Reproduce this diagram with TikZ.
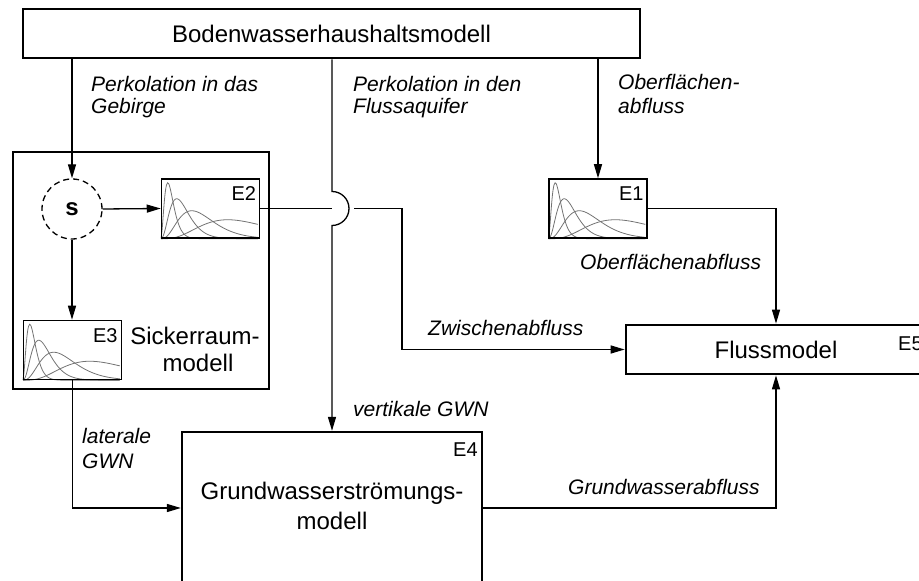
\documentclass[tikz,border=0pt]{standalone}
\usepackage{fontspec}
\setmainfont{Liberation Sans}
\usetikzlibrary{arrows.meta,calc}
\tikzset{
  bigbox/.style={draw, line width=2.7pt, inner sep=0pt, font=\fontsize{24}{28}\selectfont},
  ebox/.style={draw, line width=1.5pt, minimum width=98pt, minimum height=59pt, inner sep=0pt},
  elabel/.style={font=\fontsize{20}{24}\selectfont, inner sep=0pt, anchor=north east},
  lbl/.style={font=\fontsize{21}{24}\selectfont\itshape, inner sep=0pt, anchor=base west},
  mtxt/.style={font=\fontsize{24}{28}\selectfont, inner sep=0pt, anchor=base},
  conn/.style={line width=1.3pt},
  arr/.style={conn, -{Triangle[length=14pt,width=8pt]}},
  curve/.style={draw=black!55, line width=0.8pt}
}
\newcommand\gcurve[3]{\draw[curve] plot[domain=0.3:97,samples=90,smooth] (\x,{#2*exp(#3*(ln(\x/#1)+1-\x/#1))});}
\newcommand\curvefamily{%
  \gcurve{7}{56}{2.2}
  \gcurve{16}{40}{2.6}
  \gcurve{31}{28}{3.0}
  \gcurve{67}{19}{3.6}
}
\begin{document}
\begin{tikzpicture}[x=1pt,y=1pt]
\useasboundingbox (0,0) rectangle (919,581);
\clip (0,0) rectangle (919,581);

% boxes
\node[bigbox, minimum width=617pt, minimum height=49pt] (top) at (331.5,547.5) {Bodenwasserhaushaltsmodell};
\node[draw, line width=2.8pt, minimum width=256pt, minimum height=237pt, inner sep=0pt] (sick) at (141,310.5) {};
\node[draw, dashed, dash pattern=on 6pt off 4pt, line width=1.3pt, circle, minimum size=60pt, inner sep=0pt,
      font=\fontsize{24}{28}\selectfont\bfseries] (s) at (72,372) {s};
\node[ebox] (e2) at (210.5,372.5) {};
\node[ebox] (e1) at (598,372.5) {};
\node[ebox] (e3) at (72.5,231) {};
\node[bigbox, minimum width=300pt, minimum height=49pt] (fluss) at (776,231.5) {Flussmodel};
\node[draw, line width=2.3pt, minimum width=300pt, minimum height=152pt, inner sep=0pt] (e4) at (332,73) {};

% curves in E boxes
\begin{scope}[shift={(e2.south west)}]\curvefamily\end{scope}
\begin{scope}[shift={(e1.south west)}]\curvefamily\end{scope}
\begin{scope}[shift={(e3.south west)}]\curvefamily\end{scope}
\node[ebox] at (e2) {};
\node[ebox] at (e1) {};
\node[ebox] at (e3) {};

% E labels
\node[elabel] (le2) at ($(e2.north east)+(-4,-8)$) {E2};
\node[elabel] (le1) at ($(e1.north east)+(-4,-8)$) {E1};
\node[elabel] (le3) at ($(e3.north east)+(-4.5,-8.5)$) {E3};
\node[elabel, anchor=north west] (le4) at (453,138) {E4};
\node[elabel, anchor=north west] (le5) at (898,244) {E5};

% box texts
\node[mtxt] (sk1) at (195,236) {Sickerraum-};
\node[mtxt] (sk2) at (198,209) {modell};
\node[mtxt] (gw1) at (332,81) {Grundwasserströmungs-};
\node[mtxt] (gw2) at (332,51) {modell};

% hop coordinate
\coordinate (hc) at (e4.north |- e2.east);
\coordinate (zk) at (402,300);

% connectors
\draw[arr] (top.south -| s.north) -- (s.north);
\draw[arr] (top.south -| e1.north) -- (e1.north);
\draw[arr] (top.south -| hc) -- ([yshift=17pt]hc) arc[start angle=90, end angle=-90, radius=17pt] -- (e4.north);
\draw[arr] (s.east) -- (e2.west);
\draw[arr] (s.south) -- (s.south |- e3.north);
\draw[conn] (e2.east) -- (hc);
\draw[arr] ([xshift=22pt]hc) -- (hc -| zk) |- (fluss.west);
\draw[arr] (e3.south) |- (e4.west);
\draw[arr] (e1.east) -| (fluss.north);
\draw[arr] (e4.east) -| (fluss.south);

% labels
\node[lbl] (p1a) at (91,489) {Perkolation in das};
\node[lbl] (p1b) at (91,467) {Gebirge};
\node[lbl] (p2a) at (353,489) {Perkolation in den};
\node[lbl] (p2b) at (353,467) {Flussaquifer};
\node[lbl] (o1a) at (618,491) {Oberflächen-};
\node[lbl] (o1b) at (618,467) {abfluss};
\node[lbl] (zw) at (428,245) {Zwischenabfluss};
\node[lbl] (vg) at (353,164) {vertikale GWN};
\node[lbl] (lg1) at (82,137) {laterale};
\node[lbl] (lg2) at (82,112) {GWN};
\node[lbl] (oa) at (580,311) {Oberflächenabfluss};
\node[lbl] (ga) at (568,86) {Grundwasserabfluss};
\end{tikzpicture}
\end{document}
